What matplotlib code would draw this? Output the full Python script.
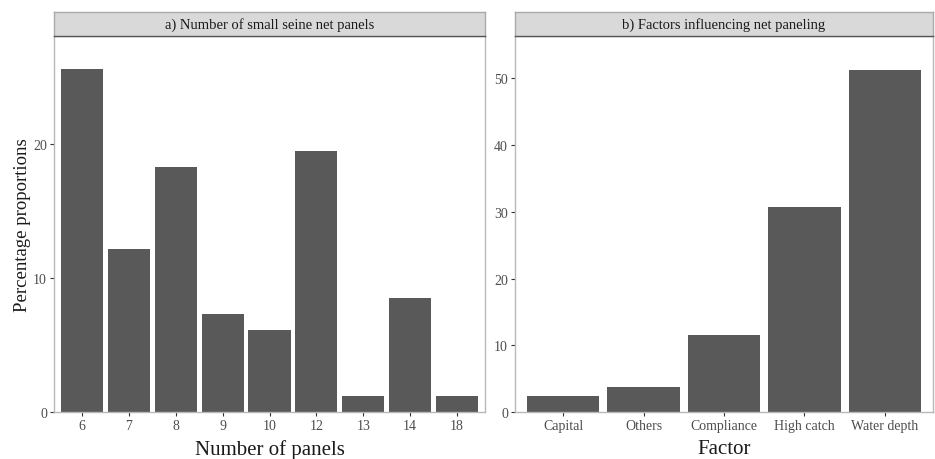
import matplotlib
matplotlib.use("Agg")
import matplotlib.pyplot as plt

# ---- data ----
panels = ["6", "7", "8", "9", "10", "12", "13", "14", "18"]
panel_pct = [25.6, 12.2, 18.3, 7.3, 6.1, 19.5, 1.2, 8.5, 1.2]

factors = ["Capital", "Others", "Compliance", "High catch", "Water depth"]
factor_pct = [2.4, 3.7, 11.5, 30.7, 51.2]

strip_a = "a) Number of small seine net panels"
strip_b = "b) Factors influencing net paneling"

plt.rcParams['font.family'] = ['Liberation Serif', 'DejaVu Serif']

W, H = 935, 460
fig = plt.figure(figsize=(W / 100, H / 100), dpi=100)


def px_axes(x0, y0, x1, y1):
    return fig.add_axes([x0 / W, 1 - y1 / H, (x1 - x0) / W, (y1 - y0) / H])


bar_color = "#595959"
border = "#b8b8b8"
tick_color = "#4d4d4d"


def make_panel(x0, x1, cats, vals, ymax, yticks, strip_text, xlabel):
    ax = px_axes(x0, 37, x1, 413)
    pos = list(range(len(cats)))
    ax.bar(pos, vals, width=0.9, color=bar_color, edgecolor="none")
    ax.set_xlim(-0.6, len(cats) - 0.4)
    ax.set_ylim(0, ymax)
    ax.set_xticks(pos)
    ax.set_xticklabels(cats)
    ax.set_yticks(yticks)
    ax.tick_params(axis="both", length=3, width=0.8, color="#333333",
                   labelsize=10, labelcolor=tick_color, pad=2)
    for s in ax.spines.values():
        s.set_color(border)
        s.set_linewidth(1.0)
    ax.set_xlabel(xlabel, fontsize=15, color="#1a1a1a", labelpad=5)
    # strip
    st = px_axes(x0, 13, x1, 37)
    st.set_facecolor("#d9d9d9")
    st.set_xticks([])
    st.set_yticks([])
    for k, s in st.spines.items():
        s.set_color("#aaaaaa")
        s.set_linewidth(1.0)
    st.spines["bottom"].set_color("#555555")
    st.text(0.5, 0.5, strip_text, ha="center", va="center",
            fontsize=10.5, color="#1a1a1a", transform=st.transAxes)
    return ax


ax1 = make_panel(54, 485, panels, panel_pct, 28.06, [0, 10, 20],
                 strip_a, "Number of panels")
ax1.set_ylabel("Percentage proportions", fontsize=13.5, color="#1a1a1a", labelpad=1.5)

ax2 = make_panel(515, 933, factors, factor_pct, 56.35, [0, 10, 20, 30, 40, 50],
                 strip_b, "Factor")

fig.savefig("out.png", dpi=100, facecolor="white")
